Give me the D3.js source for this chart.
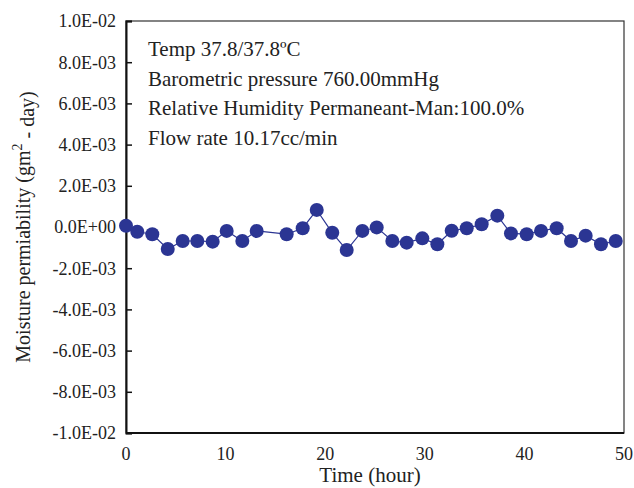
<!DOCTYPE html>
<html>
<head>
<meta charset="utf-8">
<script src="https://cdn.jsdelivr.net/npm/d3@7"></script>
<style>
  body { margin: 0; background: #fff; }
  svg { font-family: "Liberation Serif", "Times New Roman", serif; }
</style>
</head>
<body>
<div id="chart"></div>
<script>
// hours and measured moisture permeability
const hours = [0, 1.13, 2.64, 4.19, 5.69, 7.16, 8.70, 10.11, 11.68, 13.12, 16.13, 17.74, 19.15,
  20.71, 22.16, 23.73, 25.17, 26.74, 28.18, 29.75, 31.26, 32.70, 34.21, 35.71, 37.28, 38.65,
  40.23, 41.67, 43.24, 44.68, 46.15, 47.69, 49.17]
const permeability = [0.00006, -0.00023, -0.00035, -0.00107, -0.00068, -0.00068, -0.00071, -0.00019,
  -0.00068, -0.00019, -0.00035, -0.00006, 0.00083, -0.00028, -0.00112, -0.00019, -0.00002,
  -0.00068, -0.00076, -0.00055, -0.00084, -0.00018, -0.00006, 0.00013, 0.00055, -0.00031,
  -0.00035, -0.00019, -0.00006, -0.00068, -0.00042, -0.00084, -0.00068]
const xTicks = [0, 10, 20, 30, 40, 50]
const yTicks = [0.01, 0.008, 0.006, 0.004, 0.002, 0, -0.002, -0.004, -0.006, -0.008, -0.01]
const yTickLabels = ["1.0E-02", "8.0E-03", "6.0E-03", "4.0E-03", "2.0E-03", "0.0E+00",
  "-2.0E-03", "-4.0E-03", "-6.0E-03", "-8.0E-03", "-1.0E-02"]
const notes = ["Temp 37.8/37.8\u00baC", "Barometric pressure 760.00mmHg",
  "Relative Humidity Permaneant-Man:100.0%", "Flow rate 10.17cc/min"]

const data = hours.map((h, i) => ({ h: h, v: permeability[i] }))

const width = 634
const height = 488
const margin = { left: 126, right: 10, top: 21, bottom: 55 }

const svg = d3.select("#chart")
  .append("svg")
  .attr("width", width)
  .attr("height", height)

const x = d3.scaleLinear()
  .domain([0, 50])
  .range([margin.left, width - margin.right])

const y = d3.scaleLinear()
  .domain([-0.01, 0.01])
  .range([height - margin.bottom, margin.top])

// plot frame
svg.append("rect")
  .attr("x", x(0))
  .attr("y", y(0.01))
  .attr("width", x(50) - x(0))
  .attr("height", y(-0.01) - y(0.01))
  .attr("fill", "none")
  .attr("stroke", "#333")
  .attr("stroke-width", 1.2)

// y axis, ticks point inward
const yAxis = svg.append("g")
  .attr("transform", `translate(${x(0)},0)`)
  .call(d3.axisRight(y)
    .tickValues(yTicks)
    .tickSize(6)
    .tickFormat(""))
yAxis.select(".domain").attr("stroke", "#111").attr("stroke-width", 2)
yAxis.selectAll(".tick line").attr("stroke", "#111").attr("stroke-width", 1.5)

svg.selectAll(".ylab")
  .data(yTicks)
  .join("text")
  .attr("class", "ylab")
  .attr("x", x(0) - 10)
  .attr("y", d => y(d))
  .attr("dy", "0.35em")
  .attr("text-anchor", "end")
  .style("font-size", "18px")
  .style("fill", "#222")
  .text((d, i) => yTickLabels[i])

// x axis line + labels
svg.append("line")
  .attr("x1", x(0)).attr("x2", x(50))
  .attr("y1", y(-0.01)).attr("y2", y(-0.01))
  .attr("stroke", "#111")
  .attr("stroke-width", 2)

svg.selectAll(".xlab")
  .data(xTicks)
  .join("text")
  .attr("class", "xlab")
  .attr("x", d => x(d))
  .attr("y", y(-0.01) + 27)
  .attr("text-anchor", "middle")
  .style("font-size", "18px")
  .style("fill", "#222")
  .text(d => d)

// axis titles
svg.append("text")
  .attr("x", x(25) - 5)
  .attr("y", height - 6)
  .attr("text-anchor", "middle")
  .style("font-size", "21px")
  .style("fill", "#222")
  .text("Time (hour)")

const yt = svg.append("text")
  .attr("transform", `translate(30, ${y(0)}) rotate(-90)`)
  .attr("text-anchor", "middle")
  .style("font-size", "20px")
  .style("fill", "#222")
yt.append("tspan").text("Moisture permiability (gm")
yt.append("tspan").attr("dy", "-0.6em").style("font-size", "14px").text("2")
yt.append("tspan").attr("dy", "0.6em").text(" - day)")

// notes
svg.selectAll(".note")
  .data(notes)
  .join("text")
  .attr("class", "note")
  .attr("x", 148)
  .attr("y", (d, i) => 56 + i * 29.5)
  .style("font-size", "21px")
  .style("fill", "#222")
  .text(d => d)

// series
const line = d3.line()
  .x(d => x(d.h))
  .y(d => y(d.v))

svg.append("path")
  .datum(data)
  .attr("d", line)
  .attr("fill", "none")
  .attr("stroke", "#2b3593")
  .attr("stroke-width", 1.2)

svg.selectAll("circle")
  .data(data)
  .join("circle")
  .attr("cx", d => x(d.h))
  .attr("cy", d => y(d.v))
  .attr("r", 7)
  .attr("fill", "#2b3593")
</script>
</body>
</html>
